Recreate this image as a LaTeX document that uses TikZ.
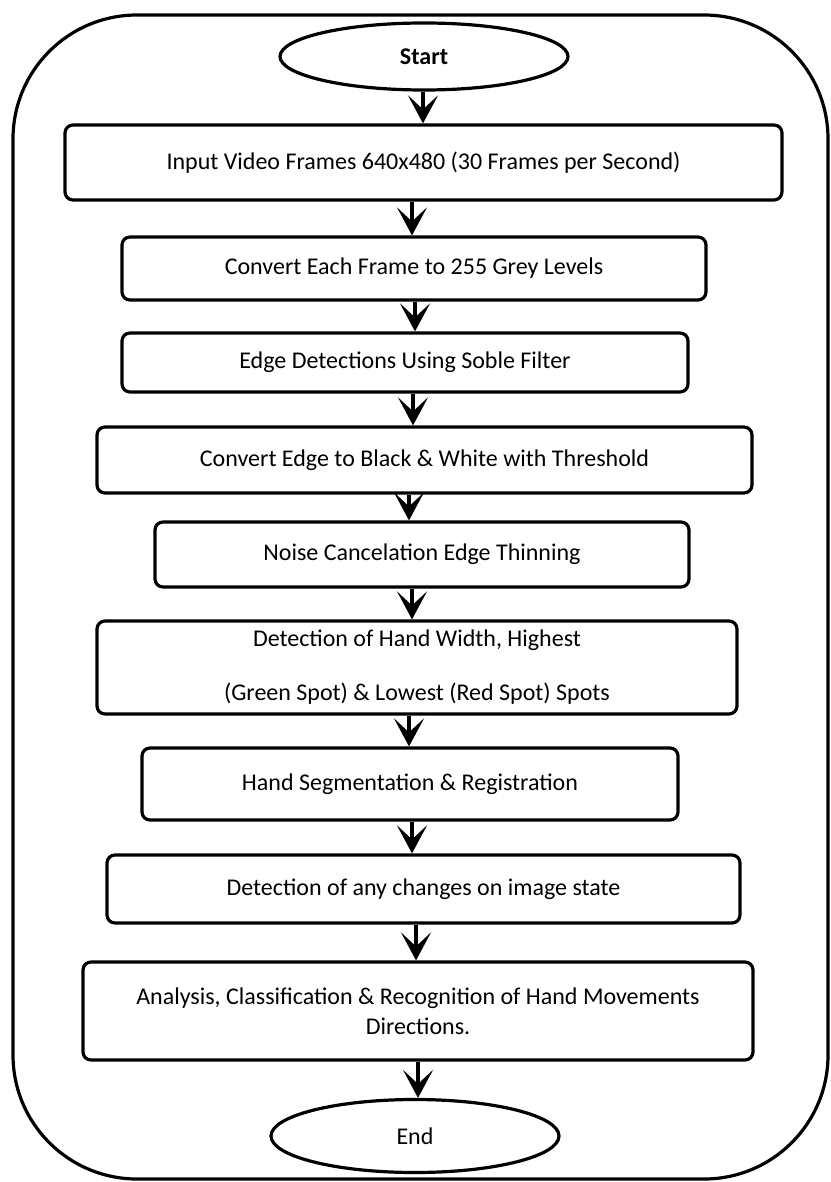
\documentclass[tikz,border=0pt]{standalone}
\usepackage{fontspec}
\setmainfont{Carlito}
\usetikzlibrary{shapes.geometric,arrows.meta}

\begin{document}
\begin{tikzpicture}[x=0.5pt,y=-0.5pt,
	stepbox/.style={draw, rectangle, rounded corners=4pt, line width=1.6pt, inner sep=0pt, align=center, font=\fontsize{12}{14.5}\selectfont},
	termbox/.style={draw, ellipse, line width=1.6pt, inner sep=0pt, font=\fontsize{12}{14.5}\selectfont},
	flow/.style={line width=1.8pt, -{Stealth[length=14pt,width=15pt,inset=7pt]}}]
		\useasboundingbox (0,0) rectangle (830,1182);

		% outer frame
		\draw[line width=1.6pt, rounded corners=62pt] (13,15) rectangle (828,1179);

		\node[termbox, minimum width=144pt, minimum height=33.5pt] (start) at (424,56.5) {\textbf{Start}};

		\node[stepbox, minimum width=358.5pt, minimum height=37.5pt] (input) at (423.5,162.5) {Input Video Frames 640x480 (30 Frames per Second)};

		\node[stepbox, minimum width=292pt, minimum height=31.5pt] (grey) at (414,268.5) {Convert Each Frame to 255 Grey Levels};

		\node[stepbox, minimum width=283pt, minimum height=29.5pt] (sobel) at (405,362.5) {Edge Detections Using Soble Filter};

		\node[stepbox, minimum width=327.5pt, minimum height=33pt] (thresh) at (424.5,460) {Convert Edge to Black \& White with Threshold};

		\node[stepbox, minimum width=267pt, minimum height=32.5pt] (noise) at (422,554.5) {Noise Cancelation Edge Thinning};

		\node[stepbox, minimum width=320pt, minimum height=46.5pt] (spots) at (417,667.5) {Detection of Hand Width, Highest\\[12.5pt](Green Spot) \& Lowest (Red Spot) Spots};

		\node[stepbox, minimum width=268pt, minimum height=36pt] (segm) at (410,784) {Hand Segmentation \& Registration};

		\node[stepbox, minimum width=316.5pt, minimum height=34pt] (change) at (423.5,889) {Detection of any changes on image state};

		\node[stepbox, minimum width=335pt, minimum height=49pt] (analysis) at (418,1011) {Analysis, Classification \& Recognition of Hand Movements\\[0.5pt]Directions.};

		\node[termbox, minimum width=144pt, minimum height=36.5pt] (end) at (415,1136) {End};

		% arrows between the steps
		\foreach \a/\b/\x in {start/input/423, input/grey/412, grey/sobel/415, sobel/thresh/413, thresh/noise/409, noise/spots/412, spots/segm/409, segm/change/412, change/analysis/416, analysis/end/418}
			\draw[flow] (\a.south -| \x,0) -- (\b.north -| \x,0);
	\end{tikzpicture}
\end{document}
